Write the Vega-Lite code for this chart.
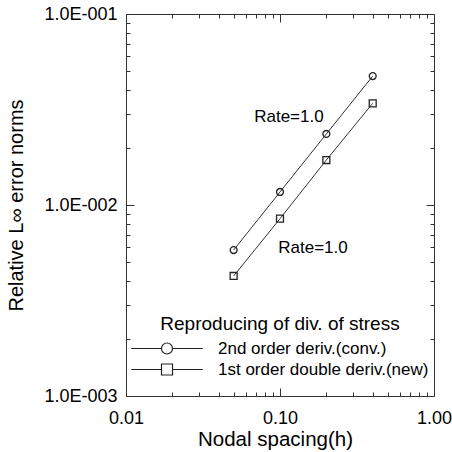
{
  "$schema": "https://vega.github.io/schema/vega-lite/v6.json",
  "width": 308,
  "height": 382,
  "autosize": {"type": "none"},
  "padding": {"left": 126, "top": 14, "right": 18, "bottom": 56},
  "config": {
    "font": "Liberation Sans",
    "view": {"stroke": "#333", "strokeWidth": 1},
    "axis": {
      "domain": false,
      "grid": false,
      "labelFont": "Liberation Sans",
      "titleFont": "Liberation Sans",
      "labelFontSize": 18,
      "labelColor": "#000",
      "titleFontSize": 20,
      "titleFontWeight": "normal",
      "titleColor": "#000",
      "tickColor": "#333",
      "tickWidth": 1,
      "labelFlush": false,
      "labelOverlap": false
    },
    "legend": {
      "labelFont": "Liberation Sans",
      "titleFont": "Liberation Sans"
    }
  },
  "datasets": {
    "pts": [
      {"series": "2nd order deriv.(conv.)", "h": 0.05, "err": 0.00581},
      {"series": "2nd order deriv.(conv.)", "h": 0.1, "err": 0.0117},
      {"series": "2nd order deriv.(conv.)", "h": 0.2, "err": 0.02355},
      {"series": "2nd order deriv.(conv.)", "h": 0.4, "err": 0.0473},
      {"series": "1st order double deriv.(new)", "h": 0.05, "err": 0.00425},
      {"series": "1st order double deriv.(new)", "h": 0.1, "err": 0.00848},
      {"series": "1st order double deriv.(new)", "h": 0.2, "err": 0.0172},
      {"series": "1st order double deriv.(new)", "h": 0.4, "err": 0.03407}
    ],
    "notes": [
      {"label": "Rate=1.0", "h": 0.1143, "err": 0.029},
      {"label": "Rate=1.0", "h": 0.1637, "err": 0.005954}
    ]
  },
  "layer": [
    {
      "data": {"name": "pts"},
      "mark": {"type": "line", "color": "#333", "strokeWidth": 1},
      "encoding": {
        "x": {
          "field": "h", "type": "quantitative",
          "scale": {"type": "log", "domain": [0.01, 1]},
          "axis": {
            "orient": "bottom", "ticks": false, "values": [0.01, 0.1, 1],
            "format": ".2f", "labelPadding": 13,
            "title": "Nodal spacing(h)", "titlePadding": 2, "titleX": 149, "titleFontSize": 20.5
          }
        },
        "y": {
          "field": "err", "type": "quantitative",
          "scale": {"type": "log", "domain": [0.001, 0.1]},
          "axis": {
            "orient": "left", "ticks": false, "values": [0.001, 0.01, 0.1],
            "labelExpr": "datum.value < 0.002 ? '1.0E-003' : (datum.value < 0.02 ? '1.0E-002' : '1.0E-001')",
            "labelPadding": 9,
            "title": "Relative L∞ error norms", "titlePadding": 17
          }
        },
        "detail": {"field": "series", "type": "nominal"}
      }
    },
    {
      "data": {"name": "pts"},
      "mark": {"type": "point", "filled": false, "color": "#222", "strokeWidth": 1.3, "opacity": 1, "size": 48},
      "encoding": {
        "x": {
          "field": "h", "type": "quantitative",
          "scale": {"type": "log", "domain": [0.01, 1]},
          "axis": {
            "orient": "bottom", "labels": false, "title": null,
            "values": [0.01, 0.02, 0.03, 0.04, 0.05, 0.06, 0.07, 0.08, 0.09, 0.1, 0.2, 0.3, 0.4, 0.5, 0.6, 0.7, 0.8, 0.9, 1],
            "tickSize": {"condition": {"test": "abs(log(datum.value)/LN10 - round(log(datum.value)/LN10)) < 0.001", "value": -8}, "value": -4}
          }
        },
        "y": {
          "field": "err", "type": "quantitative",
          "scale": {"type": "log", "domain": [0.001, 0.1]},
          "axis": {
            "orient": "left", "labels": false, "title": null,
            "values": [0.001, 0.002, 0.003, 0.004, 0.005, 0.006, 0.007, 0.008, 0.009, 0.01, 0.02, 0.03, 0.04, 0.05, 0.06, 0.07, 0.08, 0.09, 0.1],
            "tickSize": {"condition": {"test": "abs(log(datum.value)/LN10 - round(log(datum.value)/LN10)) < 0.001", "value": -8}, "value": -4}
          }
        },
        "shape": {
          "field": "series", "type": "nominal",
          "scale": {"domain": ["2nd order deriv.(conv.)", "1st order double deriv.(new)"], "range": ["circle", "square"]},
          "legend": null
        }
      }
    },
    {
      "data": {"name": "pts"},
      "mark": {"type": "point", "filled": false, "color": "#222", "strokeWidth": 1.2, "opacity": 0, "size": 121},
      "encoding": {
        "x": {"field": "h", "type": "quantitative", "scale": {"type": "log", "domain": [0.01, 1]}, "axis": null},
        "y": {"field": "err", "type": "quantitative", "scale": {"type": "log", "domain": [0.001, 0.1]}, "axis": null},
        "shape": {
          "field": "series", "type": "nominal",
          "scale": {
            "domain": ["2nd order deriv.(conv.)", "1st order double deriv.(new)"],
            "range": ["M-6.5,0L-1,0M1,0L6.5,0M-1,0A1,1,0,1,1,1,0A1,1,0,1,1,-1,0", "M-6.5,0L-1,0M1,0L6.5,0M-1,-1L1,-1L1,1L-1,1Z"]
          },
          "legend": {
            "orient": "none", "legendX": 5, "legendY": 301, "padding": 0,
            "title": "Reproducing of div. of stress",
            "titleFontSize": 19, "titleFontWeight": "normal", "titleColor": "#000",
            "titleAnchor": "middle", "titlePadding": 6, "titleLimit": 500,
            "labelFontSize": 17, "labelColor": "#000", "labelLimit": 500,
            "symbolSize": 121, "symbolOffset": 27.5, "labelOffset": 42.5,
            "rowPadding": 3,
            "symbolStrokeWidth": 1.2, "symbolStrokeColor": "#222", "symbolFillColor": "transparent",
            "symbolOpacity": 1
          }
        }
      }
    },
    {
      "data": {"name": "notes"},
      "mark": {"type": "text", "fontSize": 17, "color": "#000", "align": "center", "baseline": "middle", "font": "Liberation Sans"},
      "encoding": {
        "x": {
          "field": "h", "type": "quantitative",
          "scale": {"type": "log", "domain": [0.01, 1]},
          "axis": {
            "orient": "top", "labels": false, "title": null,
            "values": [0.01, 0.02, 0.03, 0.04, 0.05, 0.06, 0.07, 0.08, 0.09, 0.1, 0.2, 0.3, 0.4, 0.5, 0.6, 0.7, 0.8, 0.9, 1],
            "tickSize": {"condition": {"test": "abs(log(datum.value)/LN10 - round(log(datum.value)/LN10)) < 0.001", "value": -8}, "value": -4}
          }
        },
        "y": {
          "field": "err", "type": "quantitative",
          "scale": {"type": "log", "domain": [0.001, 0.1]},
          "axis": {
            "orient": "right", "labels": false, "title": null,
            "values": [0.001, 0.002, 0.003, 0.004, 0.005, 0.006, 0.007, 0.008, 0.009, 0.01, 0.02, 0.03, 0.04, 0.05, 0.06, 0.07, 0.08, 0.09, 0.1],
            "tickSize": {"condition": {"test": "abs(log(datum.value)/LN10 - round(log(datum.value)/LN10)) < 0.001", "value": -8}, "value": -4}
          }
        },
        "text": {"field": "label", "type": "nominal"}
      }
    }
  ],
  "resolve": {
    "axis": {"x": "independent", "y": "independent"},
    "scale": {"shape": "independent"}
  }
}
